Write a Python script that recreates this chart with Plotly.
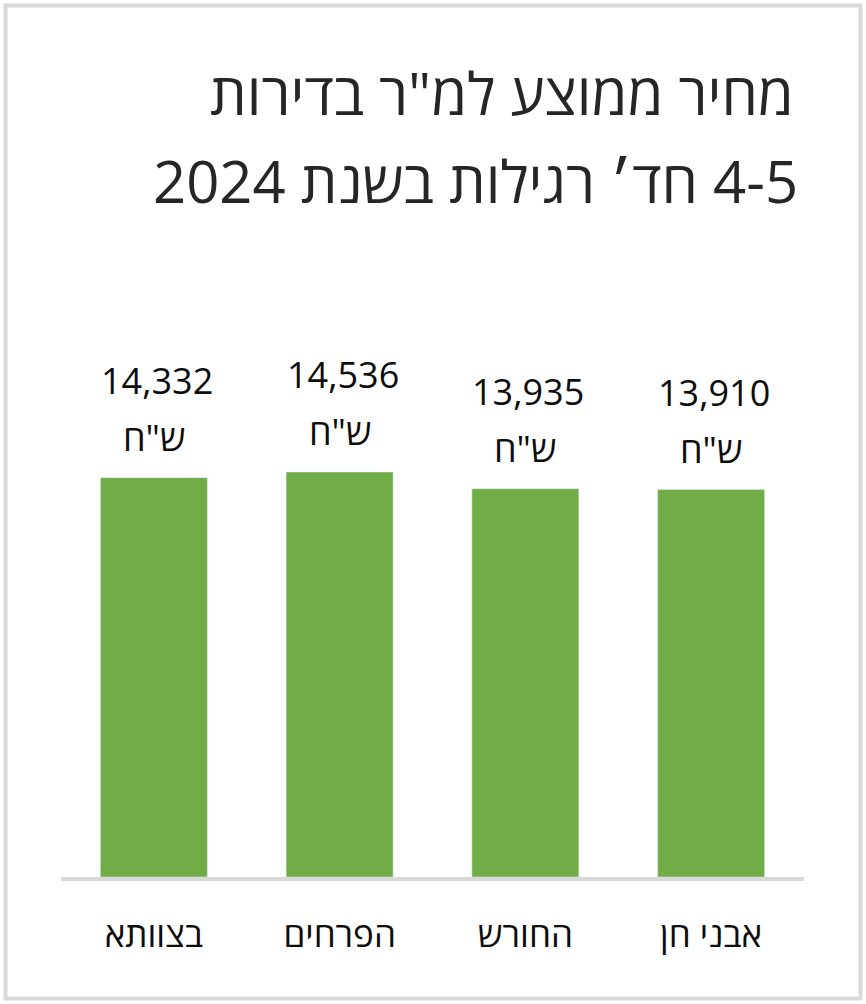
import plotly.graph_objects as go

# ----------------- data -----------------
CATEGORIES = ["בצוותא", "הפרחים", "החורש", "אבני חן"]
PRICES = [14332, 14536, 13935, 13910]
CURRENCY = "ש\"ח"
TITLE_LINES = ["מחיר ממוצע למ\"ר בדירות", "\u200f4-5 חד׳ רגילות בשנת 2024"]

# ----------------- palette / geometry -----------------
BAR_GREEN = "#70AD47"
AXIS_GREY = "#D9D9D9"
TEXT_DARK = "#262626"
LABEL_DARK = "#0D0D0D"
FONT = "Open Sans, Liberation Sans, DejaVu Sans, sans-serif"

W, H = 866, 1004
PLOT_L, PLOT_R, PLOT_T, PLOT_B = 61, 804, 330, 877   # plot area in page pixels


def px_x(px):
    return (px - PLOT_L) / (PLOT_R - PLOT_L)


def px_y(py):
    return (PLOT_B - py) / (PLOT_B - PLOT_T)


fig = go.Figure()
fig.add_trace(go.Bar(
    x=CATEGORIES, y=PRICES, marker_color=BAR_GREEN, width=0.576,
    hoverinfo="skip", showlegend=False,
))

# value labels above each bar: number line, then currency line
for cat, val in zip(CATEGORIES, PRICES):
    fig.add_annotation(x=cat, y=val, text=f"{val:,}", showarrow=False,
                       yanchor="middle", yshift=97, xshift=3,
                       font=dict(family=FONT, size=36, color=LABEL_DARK))
    fig.add_annotation(x=cat, y=val, text=CURRENCY, showarrow=False,
                       yanchor="middle", yshift=40,
                       font=dict(family=FONT, size=36, color=LABEL_DARK))

# title, right aligned, two lines
for line, py, right in zip(TITLE_LINES, [93, 180], [796, 800]):
    fig.add_annotation(xref="paper", yref="paper", x=px_x(right), y=px_y(py),
                       xanchor="right", yanchor="middle", text=line, showarrow=False,
                       font=dict(family=FONT, size=58, color=TEXT_DARK))

fig.update_layout(
    width=W, height=H,
    paper_bgcolor="white", plot_bgcolor="white",
    margin=dict(l=PLOT_L, r=W - PLOT_R, t=PLOT_T, b=H - PLOT_B),
    xaxis=dict(
        showline=True, linecolor=AXIS_GREY, linewidth=4, showgrid=False,
        tickfont=dict(family=FONT, size=35, color=LABEL_DARK),
        ticklabelstandoff=24, fixedrange=True,
    ),
    yaxis=dict(visible=False, range=[0, 19630], fixedrange=True),
)

# light grey frame around the whole chart
fig.add_shape(
    type="rect", xref="paper", yref="paper",
    x0=px_x(5.5), x1=px_x(860.5), y0=px_y(998.5), y1=px_y(5.5),
    line=dict(color=AXIS_GREY, width=4), layer="below",
)

fig.write_html("out.html", config={"displayModeBar": False},
               post_script="document.body.style.margin='0';")
